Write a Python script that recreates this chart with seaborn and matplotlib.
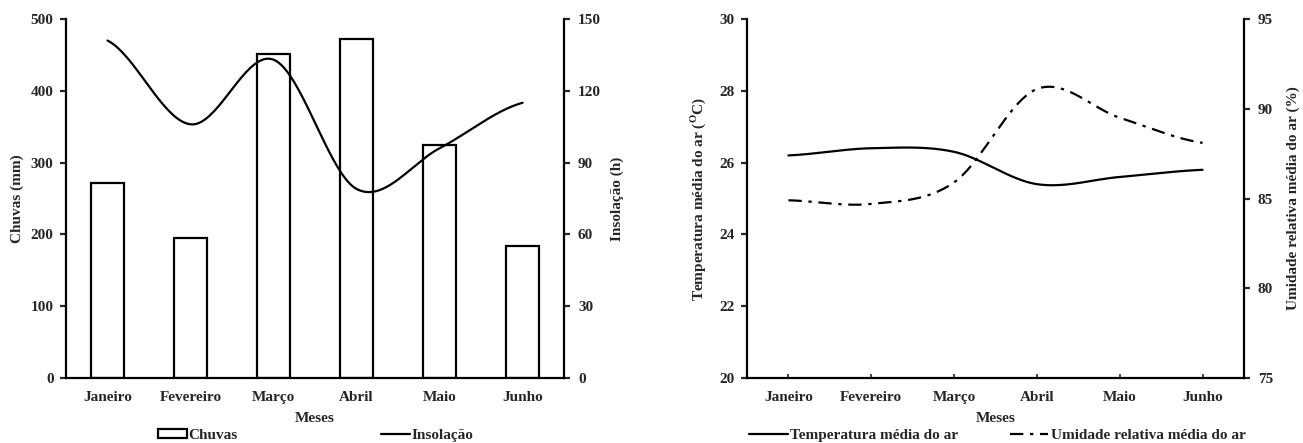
import matplotlib
matplotlib.use("Agg")
import matplotlib.pyplot as plt
from matplotlib.patches import Patch
from matplotlib.lines import Line2D
import seaborn as sns
import numpy as np
import pandas as pd

sns.set_style("ticks")
plt.rcParams['font.family'] = ['Liberation Serif', 'DejaVu Serif']
plt.rcParams['font.weight'] = 'bold'
plt.rcParams['axes.labelweight'] = 'bold'
plt.rcParams['mathtext.fontset'] = 'custom'
plt.rcParams['mathtext.rm'] = 'Liberation Serif:bold'

meses = ["Janeiro", "Fevereiro", "Março", "Abril", "Maio", "Junho"]
chuvas = [271, 195, 451, 472, 325, 184]
insolacao = [141, 106, 133, 79, 96, 115]
temperatura = [26.2, 26.4, 26.3, 25.4, 25.6, 25.8]
umidade = [84.9, 84.7, 85.9, 91.1, 89.5, 88.1]

FS = 11
LW = 1.6


def smooth(values, n=40):
    # Excel-like smoothed line: cubic bezier through the points
    y = np.asarray(values, dtype=float)
    x = np.arange(len(y), dtype=float)
    yp = np.concatenate([[y[0]], y, [y[-1]]])
    xs, ys = [], []
    t = np.linspace(0, 1, n)
    for i in range(len(y) - 1):
        p0, p3 = y[i], y[i + 1]
        c1 = p0 + (yp[i + 2] - yp[i]) / 6
        c2 = p3 - (yp[i + 3] - yp[i + 1]) / 6
        yy = (1 - t) ** 3 * p0 + 3 * (1 - t) ** 2 * t * c1 + 3 * (1 - t) * t ** 2 * c2 + t ** 3 * p3
        xs.append(x[i] + t)
        ys.append(yy)
    return np.concatenate(xs), np.concatenate(ys)


def style_axes(ax, ax2):
    for a in (ax, ax2):
        a.spines['top'].set_visible(False)
        for s in ('left', 'right', 'bottom'):
            a.spines[s].set_linewidth(LW)
            a.spines[s].set_color('black')
    ax.spines['right'].set_visible(False)
    ax2.spines['left'].set_visible(False)
    ax2.spines['bottom'].set_visible(False)
    ax.tick_params(axis='y', direction='out', length=4, width=LW, pad=5, labelsize=FS)
    ax2.tick_params(axis='y', direction='out', length=4, width=LW, pad=6, labelsize=FS)
    ax.set_xlim(-0.5, 5.5)
    for lab in ax.get_xticklabels() + ax.get_yticklabels() + ax2.get_yticklabels():
        lab.set_fontweight('bold')


fig = plt.figure(figsize=(13.03, 4.43), dpi=100)
ax1 = fig.add_axes([0.0507, 0.1467, 0.3822, 0.8104])
ax1b = ax1.twinx()
ax2 = fig.add_axes([0.5733, 0.1467, 0.3814, 0.8104])
ax2b = ax2.twinx()

# --- left: chuvas & insolacao
df_chuva = pd.DataFrame({"mes": meses, "chuvas": chuvas})
sns.barplot(data=df_chuva, x="mes", y="chuvas", ax=ax1, color="white",
            edgecolor="black", linewidth=LW, width=0.4, saturation=1)
xs, ys = smooth(insolacao)
sns.lineplot(x=xs, y=ys, ax=ax1b, color="black", linewidth=LW, sort=False)
ax1.set_ylim(0, 500)
ax1.set_yticks([0, 100, 200, 300, 400, 500])
ax1b.set_ylim(0, 150)
ax1b.set_yticks([0, 30, 60, 90, 120, 150])
style_axes(ax1, ax1b)
ax1.tick_params(axis='x', length=0, pad=9, labelsize=FS)
ax1.set_xlabel("Meses", fontsize=FS, labelpad=6)
ax1.set_ylabel("Chuvas (mm)", fontsize=FS, labelpad=5)
ax1b.set_ylabel("Insolação (h)", fontsize=FS, labelpad=7)

# --- right: temperatura & umidade
xt, yt = smooth(temperatura)
sns.lineplot(x=xt, y=yt, ax=ax2, color="black", linewidth=LW, sort=False)
xu, yu = smooth(umidade)
sns.lineplot(x=xu, y=yu, ax=ax2b, color="black", linewidth=LW, sort=False,
             linestyle=(0, (6, 3, 1.5, 3)))
ax2.set_ylim(20, 30)
ax2.set_yticks([20, 22, 24, 26, 28, 30])
ax2b.set_ylim(75, 95)
ax2b.set_yticks([75, 80, 85, 90, 95])
ax2.set_xticks(range(len(meses)))
ax2.set_xticklabels(meses)
style_axes(ax2, ax2b)
ax2.tick_params(axis='x', direction='in', length=3, width=1.2, pad=9, labelsize=FS)
ax2.set_xlabel("Meses", fontsize=FS, labelpad=6)
ax2.set_ylabel("Temperatura média do ar ($^{\\mathrm{O}}$C)", fontsize=FS, labelpad=8)
ax2b.set_ylabel("Umidade relativa média do ar (%)", fontsize=FS, labelpad=10)

for a in (ax1, ax2):
    for lab in a.get_xticklabels():
        lab.set_fontweight('bold')

# --- legends
h1 = [Patch(facecolor='white', edgecolor='black', linewidth=LW),
      Line2D([], [], color='black', linewidth=LW)]
fig.legend(h1, ["Chuvas", "Insolação"], loc='center', bbox_to_anchor=(0.2425, 0.018),
           ncol=2, frameon=False, fontsize=FS, handlelength=1.9, handleheight=0.55,
           handletextpad=0.1, columnspacing=9.4)
h2 = [Line2D([], [], color='black', linewidth=LW),
      Line2D([], [], color='black', linewidth=LW, linestyle=(0, (6, 3, 1.5, 3)))]
fig.legend(h2, ["Temperatura média do ar", "Umidade relativa média do ar"], loc='center',
           bbox_to_anchor=(0.7655, 0.018), ncol=2, frameon=False, fontsize=FS,
           handlelength=2.5, handletextpad=0.15, columnspacing=3.4)

fig.savefig("out.png", dpi=100)
